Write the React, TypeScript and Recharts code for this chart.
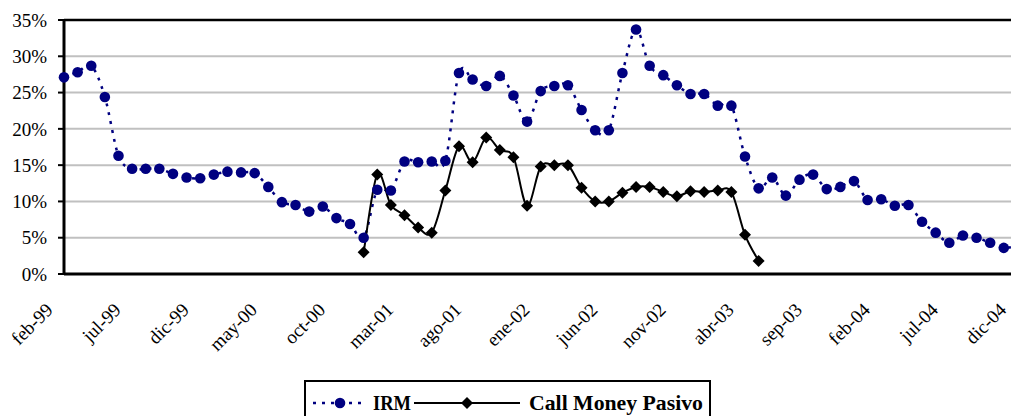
import React from 'react';
import { LineChart, Line, XAxis, YAxis, CartesianGrid, ReferenceLine, Legend } from 'recharts';

const months: string[] = [
  'feb-99','mar-99','abr-99','may-99','jun-99','jul-99','ago-99','sep-99','oct-99','nov-99','dic-99',
  'ene-00','feb-00','mar-00','abr-00','may-00','jun-00','jul-00','ago-00','sep-00','oct-00','nov-00','dic-00',
  'ene-01','feb-01','mar-01','abr-01','may-01','jun-01','jul-01','ago-01','sep-01','oct-01','nov-01','dic-01',
  'ene-02','feb-02','mar-02','abr-02','may-02','jun-02','jul-02','ago-02','sep-02','oct-02','nov-02','dic-02',
  'ene-03','feb-03','mar-03','abr-03','may-03','jun-03','jul-03','ago-03','sep-03','oct-03','nov-03','dic-03',
  'ene-04','feb-04','mar-04','abr-04','may-04','jun-04','jul-04','ago-04','sep-04','oct-04','nov-04','dic-04',
];

const irm: number[] = [
  27.1, 27.8, 28.7, 24.4, 16.3, 14.5, 14.5, 14.5, 13.8, 13.3, 13.2,
  13.7, 14.1, 14.0, 13.9, 12.0, 9.9, 9.5, 8.6, 9.3, 7.7, 6.9, 5.0,
  11.6, 11.5, 15.5, 15.4, 15.5, 15.6, 27.7, 26.8, 25.9, 27.3, 24.6, 21.0,
  25.2, 25.9, 26.0, 22.6, 19.8, 19.8, 27.7, 33.7, 28.7, 27.4, 26.0, 24.8,
  24.8, 23.2, 23.2, 16.2, 11.8, 13.3, 10.8, 13.0, 13.7, 11.7, 12.0, 12.8,
  10.2, 10.3, 9.4, 9.5, 7.2, 5.7, 4.3, 5.3, 5.0, 4.3, 3.6, 3.9,
];

const callMoney: (number | null)[] = [
  null, null, null, null, null, null, null, null, null, null, null,
  null, null, null, null, null, null, null, null, null, null, null, 3.0,
  13.7, 9.5, 8.1, 6.4, 5.7, 11.5, 17.6, 15.4, 18.8, 17.1, 16.1, 9.4,
  14.8, 15.0, 15.0, 11.9, 10.0, 10.0, 11.2, 12.0, 12.0, 11.3, 10.7, 11.4,
  11.3, 11.5, 11.3, 5.4, 1.8, null, null, null, null, null, null, null,
  null, null, null, null, null, null, null, null, null, null, null, null,
];

const yTicks: number[] = [0, 5, 10, 15, 20, 25, 30, 35];
const seriesNames: string[] = ['IRM', 'Call Money Pasivo'];

const data = months.map((m, i) => ({ month: m, irm: irm[i], call: callMoney[i] }));

const FONT = '"Liberation Serif", "Times New Roman", Times, serif';
const NAVY = '#000080';

// Excel-like smoothed line (Catmull-Rom as cubic Bezier)
function excelSmooth(context: any) {
  let pts: number[][] = [];
  return {
    areaStart() {},
    areaEnd() {},
    lineStart() {
      pts = [];
    },
    lineEnd() {
      const n = pts.length;
      if (n === 0) return;
      context.moveTo(pts[0][0], pts[0][1]);
      if (n === 1) {
        context.lineTo(pts[0][0], pts[0][1]);
        return;
      }
      for (let i = 0; i < n - 1; i++) {
        const p0 = pts[i - 1] || pts[i];
        const p1 = pts[i];
        const p2 = pts[i + 1];
        const p3 = pts[i + 2] || p2;
        context.bezierCurveTo(
          p1[0] + (p2[0] - p0[0]) / 6,
          p1[1] + (p2[1] - p0[1]) / 6,
          p2[0] - (p3[0] - p1[0]) / 6,
          p2[1] - (p3[1] - p1[1]) / 6,
          p2[0],
          p2[1]
        );
      }
    },
    point(x: number, y: number) {
      pts.push([+x, +y]);
    },
  };
}

const CircleDot = (props: any) => {
  const { cx, cy, index } = props;
  if (cx == null || cy == null || isNaN(cy)) return null;
  return <circle key={`c-${index}`} cx={cx} cy={cy} r={5.3} fill={NAVY} stroke="none" />;
};

const DiamondDot = (props: any) => {
  const { cx, cy, index } = props;
  if (cx == null || cy == null || isNaN(cy)) return null;
  const s = 6;
  return (
    <path
      key={`d-${index}`}
      d={`M${cx},${cy - s}L${cx + s},${cy}L${cx},${cy + s}L${cx - s},${cy}Z`}
      fill="#000"
      stroke="none"
    />
  );
};

const XTick = (props: any) => {
  const { x, y, payload } = props;
  const ax = x - 10;
  const ay = y + 37;
  return (
    <text
      x={ax}
      y={ay}
      transform={`rotate(-45, ${ax}, ${ay})`}
      textAnchor="end"
      style={{ fontFamily: FONT, fontSize: 19, fill: '#000' }}
    >
      {payload.value}
    </text>
  );
};

const legendText = { fontFamily: FONT, fontSize: 20, fontWeight: 'bold' as const, fill: '#000' };

const LegendBox = () => (
  <div
    style={{
      width: 403,
      height: 40,
      border: '2px solid #000',
      background: '#fff',
      position: 'relative',
    }}
  >
    <svg width={403} height={40} style={{ position: 'absolute', left: 0, top: 0 }}>
      <line x1={7} y1={21} x2={61} y2={21} stroke={NAVY} strokeWidth={2.5} strokeDasharray="3 6" />
      <circle cx={34} cy={21} r={5.3} fill={NAVY} />
      <text x={67} y={27.5} textLength={38} lengthAdjust="spacingAndGlyphs" style={legendText}>
        {seriesNames[0]}
      </text>
      <line x1={108} y1={21} x2={214} y2={21} stroke="#000" strokeWidth={2} />
      <path d="M161,15L167,21L161,27L155,21Z" fill="#000" />
      <text x={223} y={27.5} textLength={174} lengthAdjust="spacingAndGlyphs" style={legendText}>
        {seriesNames[1]}
      </text>
    </svg>
  </div>
);

export default function App() {
  return (
    <div
      style={{
        position: 'absolute',
        left: 0,
        top: 0,
        width: 1011,
        height: 416,
        overflow: 'hidden',
        background: '#fff',
      }}
    >
      <LineChart
        width={1040}
        height={416}
        data={data}
        margin={{ top: 20, right: 22.6, left: 0, bottom: 0 }}
      >
        <CartesianGrid horizontal={true} vertical={false} stroke="#c0c0c0" strokeWidth={2} />
        <XAxis
          dataKey="month"
          interval={4}
          height={142}
          tickLine={false}
          tickSize={0}
          tickMargin={0}
          axisLine={{ stroke: '#000', strokeWidth: 3 }}
          tick={<XTick />}
        />
        <YAxis
          width={64}
          domain={[0, 35]}
          ticks={yTicks}
          tickFormatter={(v: number) => `${v}%`}
          axisLine={{ stroke: '#000', strokeWidth: 3 }}
          tickLine={{ stroke: '#000', strokeWidth: 2 }}
          tickSize={6}
          tickMargin={11}
          tick={{ fontFamily: FONT, fontSize: 19, fill: '#000' }}
          interval={0}
        />
        <ReferenceLine y={35} stroke="#000" strokeWidth={2.5} />
        <Line
          dataKey="irm"
          name={seriesNames[0]}
          type={excelSmooth as any}
          stroke={NAVY}
          strokeWidth={2.5}
          strokeDasharray="3 6"
          dot={<CircleDot />}
          activeDot={false}
          isAnimationActive={false}
        />
        <Line
          dataKey="call"
          name={seriesNames[1]}
          type={excelSmooth as any}
          stroke="#000"
          strokeWidth={2}
          dot={<DiamondDot />}
          activeDot={false}
          connectNulls={false}
          isAnimationActive={false}
        />
        <Legend
          layout="horizontal"
          verticalAlign="middle"
          align="center"
          wrapperStyle={{ left: 304, top: 380, width: 407, height: 44 }}
          content={<LegendBox />}
        />
      </LineChart>
    </div>
  );
}
